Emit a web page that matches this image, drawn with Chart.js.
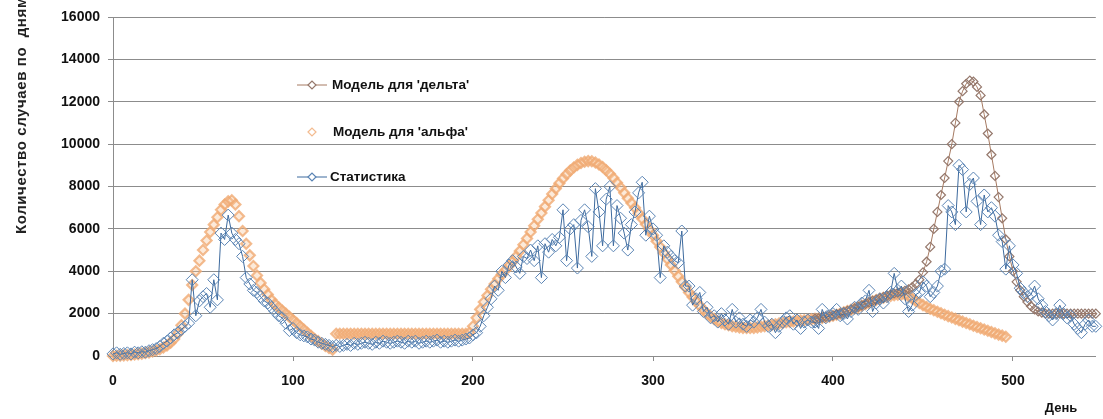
<!DOCTYPE html>
<html>
<head>
<meta charset="utf-8">
<script src="https://cdn.jsdelivr.net/npm/chart.js@4.4.0/dist/chart.umd.min.js"></script>
<style>
  html, body { margin: 0; padding: 0; background: #fff; overflow: hidden; }
  #wrap { width: 1103px; height: 419px; }
</style>
</head>
<body>
<div id="wrap"><canvas id="chart"></canvas></div>
<script>
// день отсчёта с шагом 2
const step = 2;

// Статистика, дни 0..548
const statValues = [
  100, 150, 80, 120, 150, 100, 180, 150, 200, 180, 250,
  300, 350, 450, 600, 700, 850, 1000, 1100, 1250, 1400, 1550,
  3600, 1900, 2600, 2800, 2950, 2300, 3600, 2650, 5800, 5500, 6650,
  5800, 5500, 5300, 4700, 3700, 3400, 3100, 3000, 2800, 2600, 2500,
  2300, 2100, 1900, 1800, 1550, 1200, 1300, 1100, 1000, 950, 900,
  800, 750, 650, 600, 550, 500, 450, 500, 450, 500, 550,
  500, 600, 550, 600, 650, 600, 550, 650, 600, 700, 650,
  600, 650, 700, 650, 600, 700, 650, 700, 600, 650, 700,
  650, 700, 750, 650, 700, 650, 700, 750, 700, 750, 800,
  850, 1000, 1100, 1400, 1900, 2300, 2700, 3300, 3100, 4000, 3700,
  4300, 4500, 4200, 3900, 4700, 4600, 5000, 4500, 5200, 3700, 5300,
  4900, 5500, 5200, 5600, 6900, 4500, 6000, 6200, 4150, 6400, 6900,
  6100, 4700, 7900, 6800, 5200, 7400, 8000, 5200, 7100, 6500, 5800,
  5000, 6200, 6800, 7700, 8200, 5700, 6600, 6000, 5700, 3700, 5200,
  4900, 4700, 4500, 4400, 5900, 3300, 3300, 2400, 2700, 3000, 2100,
  2300, 1800, 1900, 1600, 2000, 1700, 1500, 2200, 1600, 1800, 1500,
  1400, 1700, 1600, 1800, 2200, 1600, 1400, 1500, 1100, 1400, 1600,
  1800, 1900, 1500, 1700, 1300, 1600, 1700, 1600, 1600, 1300, 2200,
  1800, 1900, 2000, 2200, 1900, 2000, 1750, 2100, 2300, 2200, 2500,
  2600, 3100, 2100, 2500, 2700, 2500, 2800, 3000, 3900, 3100, 3300,
  2700, 2100, 2400, 2900, 3000, 3500, 3300, 2800, 3000, 3300, 4000,
  4100, 7100, 6800, 6200, 9000, 8800, 6800, 8100, 8400, 7300, 6200,
  7600, 6800, 7000, 6600, 5700, 5400, 4100, 5200, 4300, 3900, 3200,
  3000, 2800, 2900, 3300, 2700, 2400, 2100, 1900, 1700, 2000, 2400,
  2000, 1800, 1900, 1500, 1300, 1100, 1500, 1700, 1400, 1400, 1300
];
const statStart = 0;

// Модель для 'альфа', дни 0..496
const alphaValues = [
  0, 10, 20, 30, 40, 50, 70, 90, 110, 140, 170,
  210, 260, 320, 400, 500, 630, 800, 1050, 1450, 2000, 2650,
  3350, 4000, 4500, 5000, 5450, 5850, 6200, 6550, 6900, 7150, 7300,
  7350, 7150, 6600, 5900, 5300, 4750, 4250, 3800, 3450, 3150, 2900,
  2650, 2450, 2300, 2150, 2000, 1850, 1700, 1550, 1400, 1250, 1100,
  950, 800, 700, 580, 470, 380, 300, 1050, 1050, 1050, 1050,
  1050, 1050, 1050, 1050, 1050, 1050, 1050, 1050, 1050, 1050, 1050,
  1050, 1050, 1050, 1050, 1050, 1050, 1050, 1050, 1050, 1050, 1050,
  1050, 1050, 1050, 1050, 1050, 1050, 1050, 1050, 1050, 1050, 1050,
  1100, 1400, 1800, 2200, 2550, 2850, 3150, 3400, 3650, 3850, 4050,
  4250, 4450, 4700, 4950, 5250, 5550, 5850, 6150, 6450, 6750, 7050,
  7350, 7650, 7900, 8150, 8380, 8580, 8750, 8900, 9020, 9110, 9170,
  9200, 9190, 9130, 9040, 8920, 8770, 8600, 8400, 8180, 7950, 7700,
  7450, 7220, 7000, 6740, 6480, 6220, 5960, 5700, 5420, 5140, 4860,
  4580, 4300, 4030, 3760, 3500, 3250, 3000, 2780, 2570, 2370, 2180,
  2000, 1860, 1740, 1640, 1560, 1500, 1450, 1410, 1380, 1350, 1330,
  1320, 1320, 1330, 1350, 1380, 1410, 1440, 1470, 1500, 1530, 1560,
  1590, 1610, 1630, 1650, 1670, 1690, 1710, 1730, 1750, 1770, 1800,
  1830, 1860, 1900, 1950, 2000, 2060, 2120, 2180, 2240, 2300, 2370,
  2440, 2510, 2580, 2640, 2700, 2750, 2800, 2840, 2870, 2890, 2900,
  2900, 2820, 2720, 2600, 2500, 2400, 2310, 2230, 2160, 2090, 2020,
  1950, 1880, 1820, 1750, 1690, 1620, 1560, 1500, 1430, 1370, 1310,
  1250, 1190, 1130, 1070, 1010, 960, 910
];
const alphaStart = 0;

// Модель для 'дельта', дни 390..550
const deltaValues = [
  1760, 1780, 1810, 1840, 1870, 1910, 1960, 2010, 2070, 2130, 2190,
  2250, 2320, 2390, 2460, 2530, 2600, 2660, 2720, 2780, 2840, 2900,
  2950, 2990, 3030, 3080, 3150, 3250, 3400, 3600, 3950, 4450, 5150,
  6000, 6800, 7600, 8400, 9200, 10000, 11000, 12000, 12500, 12850, 13000,
  12950, 12700, 12300, 11400, 10500, 9500, 8500, 7500, 6500, 5500, 4700,
  4000, 3500, 3100, 2800, 2550, 2350, 2200, 2100, 2050, 2000, 2000,
  2000, 2000, 2000, 2000, 2000, 2000, 2000, 2000, 2000, 2000, 2000,
  2000, 2000, 2000, 2000
];
const deltaStart = 390;

const yTicks = [0, 2000, 4000, 6000, 8000, 10000, 12000, 14000, 16000];
const xTicks = [0, 100, 200, 300, 400, 500];

const legendNames = ["Модель для 'дельта'", "Модель для 'альфа'", 'Статистика'];

function toPoints(start, values) {
  return values.map((v, i) => ({ x: start + i * step, y: v }));
}

const deltaColor = '#95786c';
const deltaLine = '#a67a62';
const alphaColor = 'rgba(240,170,115,0.8)';
const statColor = '#5a84b4';
const statLine = '#3d6a9e';
const tickFont = { family: '"Liberation Sans", Arial, sans-serif', size: 14, weight: 'bold' };

// легенда, подписи осей
const extras = {
  id: 'extras',
  afterDraw(chart) {
    const ctx = chart.ctx;
    ctx.save();

    const items = [
      { y: 85, line: deltaLine, mark: deltaColor, tx: 332 },
      { y: 132, line: null, mark: alphaColor, tx: 333 },
      { y: 177, line: statLine, mark: statColor, tx: 330 }
    ];
    items.forEach((it, i) => {
      if (it.line) {
        ctx.strokeStyle = it.line;
        ctx.lineWidth = 1;
        ctx.beginPath();
        ctx.moveTo(297, it.y);
        ctx.lineTo(327, it.y);
        ctx.stroke();
      }
      ctx.strokeStyle = it.mark;
      ctx.fillStyle = '#fff';
      ctx.lineWidth = 1.2;
      ctx.beginPath();
      ctx.moveTo(312 - 4, it.y);
      ctx.lineTo(312, it.y - 4);
      ctx.lineTo(312 + 4, it.y);
      ctx.lineTo(312, it.y + 4);
      ctx.closePath();
      ctx.fill();
      ctx.stroke();
      ctx.fillStyle = '#111';
      ctx.font = 'bold 13.5px "Liberation Sans", Arial, sans-serif';
      ctx.textAlign = 'left';
      ctx.textBaseline = 'middle';
      ctx.fillText(legendNames[i], it.tx, it.y);
    });

    // подпись оси Y
    ctx.save();
    ctx.translate(22, 234);
    ctx.rotate(-Math.PI / 2);
    ctx.font = 'bold 15px "Liberation Sans", Arial, sans-serif';
    ctx.letterSpacing = '0.6px';
    ctx.fillStyle = '#222';
    ctx.textAlign = 'left';
    ctx.textBaseline = 'middle';
    ctx.fillText('Количество случаев по  дням', 0, 0);
    ctx.restore();

    // подпись оси X
    ctx.font = 'bold 13px "Liberation Sans", Arial, sans-serif';
    ctx.fillStyle = '#111';
    ctx.textAlign = 'center';
    ctx.textBaseline = 'middle';
    ctx.fillText('День', 1061, 408);

    ctx.restore();
  }
};

new Chart(document.getElementById('chart'), {
  type: 'scatter',
  data: {
    datasets: [
      {
        label: legendNames[0],
        data: toPoints(deltaStart, deltaValues),
        showLine: true,
        borderColor: deltaLine,
        borderWidth: 1,
        pointStyle: 'rectRot',
        pointRadius: 4.5,
        pointBorderWidth: 1.2,
        pointBorderColor: deltaColor,
        pointBackgroundColor: 'rgba(0,0,0,0)',
        order: 1,
        clip: false
      },
      {
        label: legendNames[1],
        data: toPoints(alphaStart, alphaValues),
        showLine: false,
        pointStyle: 'rectRot',
        pointRadius: 5,
        pointBorderWidth: 2.2,
        pointBorderColor: alphaColor,
        pointBackgroundColor: 'rgba(245,195,150,0.35)',
        order: 2,
        clip: false
      },
      {
        label: legendNames[2],
        data: toPoints(statStart, statValues),
        showLine: true,
        borderColor: statLine,
        borderWidth: 1,
        pointStyle: 'rectRot',
        pointRadius: 6,
        pointBorderWidth: 1,
        pointBorderColor: statColor,
        pointBackgroundColor: 'rgba(0,0,0,0)',
        order: 0,
        clip: false
      }
    ]
  },
  options: {
    responsive: true,
    maintainAspectRatio: false,
    animation: false,
    layout: { padding: { top: 17, left: 0, right: 0, bottom: 0 } },
    plugins: {
      legend: { display: false },
      tooltip: { enabled: false }
    },
    scales: {
      x: {
        type: 'linear',
        min: 0,
        max: 546,
        afterFit(scale) { scale.height = 63; },
        afterBuildTicks(scale) { scale.ticks = xTicks.map(v => ({ value: v })); },
        border: { color: '#8c8c8c', width: 1 },
        grid: { drawOnChartArea: false, drawTicks: true, tickLength: 5, color: '#8c8c8c' },
        ticks: {
          padding: 12,
          color: '#111',
          font: tickFont,
          callback: v => String(v)
        }
      },
      y: {
        min: 0,
        max: 16000,
        afterFit(scale) { scale.width = 113; },
        afterBuildTicks(scale) { scale.ticks = yTicks.map(v => ({ value: v })); },
        border: { color: '#8c8c8c', width: 1 },
        grid: { color: '#8c8c8c', lineWidth: 1, tickLength: 5, drawTicks: true },
        ticks: {
          padding: 8,
          color: '#111',
          font: tickFont,
          callback: v => String(v)
        }
      }
    }
  },
  plugins: [extras]
});
</script>
</body>
</html>
